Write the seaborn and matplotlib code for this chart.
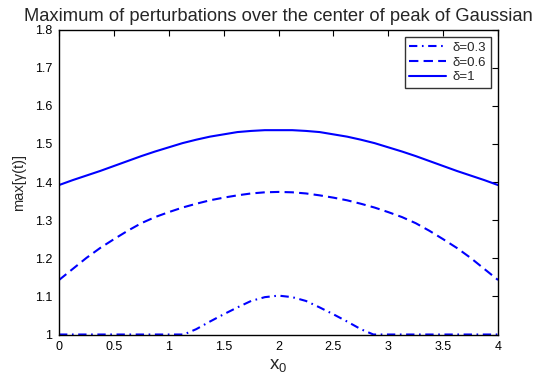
import matplotlib
matplotlib.use('Agg')
import matplotlib.pyplot as plt
import seaborn as sns
import pandas as pd

# values (curves are symmetric about x0 = 2)
x_grid = [0, 0.125, 0.25, 0.375, 0.5, 0.625, 0.75, 0.875, 1,
          1.125, 1.25, 1.375, 1.5, 1.625, 1.75, 1.875, 2,
          2.125, 2.25, 2.375, 2.5, 2.625, 2.75, 2.875, 3,
          3.125, 3.25, 3.375, 3.5, 3.625, 3.75, 3.875, 4]
gamma_d1 = [1.392, 1.405, 1.417, 1.429, 1.442, 1.455, 1.468, 1.480, 1.491,
            1.502, 1.511, 1.519, 1.525, 1.531, 1.534, 1.536, 1.536,
            1.536, 1.534, 1.531, 1.525, 1.519, 1.511, 1.502, 1.491,
            1.480, 1.468, 1.455, 1.442, 1.429, 1.417, 1.405, 1.392]
gamma_d06 = [1.143, 1.172, 1.201, 1.227, 1.250, 1.272, 1.292, 1.308, 1.321,
             1.333, 1.343, 1.352, 1.359, 1.365, 1.370, 1.373, 1.374,
             1.373, 1.370, 1.365, 1.359, 1.352, 1.343, 1.333, 1.321,
             1.308, 1.292, 1.272, 1.250, 1.227, 1.201, 1.172, 1.143]
x_d03 = [0, 0.5, 1, 1.136, 1.25, 1.375, 1.5, 1.625, 1.75, 1.875, 2,
         2.125, 2.25, 2.375, 2.5, 2.625, 2.75, 2.864, 3, 3.5, 4]
gamma_d03 = [1, 1, 1, 1, 1.014, 1.034, 1.053, 1.071, 1.088, 1.098, 1.102,
             1.098, 1.088, 1.071, 1.053, 1.034, 1.014, 1, 1, 1, 1]

labels = ['\u03b4=0.3', '\u03b4=0.6', '\u03b4=1']
xticks = [0, 0.5, 1, 1.5, 2, 2.5, 3, 3.5, 4]
xtick_labels = ['0', '0.5', '1', '1.5', '2', '2.5', '3', '3.5', '4']
yticks = [1, 1.1, 1.2, 1.3, 1.4, 1.5, 1.6, 1.7, 1.8]
ytick_labels = ['1', '1.1', '1.2', '1.3', '1.4', '1.5', '1.6', '1.7', '1.8']

df = pd.concat([
    pd.DataFrame({'x0': x_d03, 'gamma': gamma_d03, 'delta': labels[0]}),
    pd.DataFrame({'x0': x_grid, 'gamma': gamma_d06, 'delta': labels[1]}),
    pd.DataFrame({'x0': x_grid, 'gamma': gamma_d1, 'delta': labels[2]}),
])

sns.set_style('white')
plt.rcParams['font.family'] = ['Liberation Sans', 'DejaVu Sans']
plt.rcParams['mathtext.fontset'] = 'custom'
plt.rcParams['mathtext.rm'] = 'Liberation Sans'

fig = plt.figure(figsize=(5.43, 3.79), dpi=100)
ax = fig.add_axes([0.1087, 0.1174, 0.8085, 0.8047])

dash_map = {labels[0]: (4, 2.2, 0.8, 2.2), labels[1]: (4.5, 2.5), labels[2]: ''}
sns.lineplot(data=df, x='x0', y='gamma', hue='delta', style='delta',
             hue_order=labels, style_order=labels,
             palette=['#0000ff'] * 3, dashes=dash_map, estimator=None,
             sort=True, linewidth=1.5, legend=False, ax=ax)

ax.set_xlim(0, 4)
ax.set_ylim(1, 1.8)
ax.set_xticks(xticks)
ax.set_xticklabels(xtick_labels)
ax.set_yticks(yticks)
ax.set_yticklabels(ytick_labels)
ax.tick_params(direction='in', length=4, width=0.8, top=True, right=True,
               labelsize=9, colors='black', pad=5)
for sp in ax.spines.values():
    sp.set_color('black')
    sp.set_linewidth(1.0)

ax.set_xlabel(r'x$_0$', fontsize=13.5, labelpad=3)
ax.set_ylabel('max[\u03b3(t)]', fontsize=10.5, labelpad=6)
ax.set_title('Maximum of perturbations over the center of peak of Gaussian',
             fontsize=13.2, pad=6)

leg = ax.legend(ax.lines[:3], labels, loc='upper right', fontsize=9.5,
                frameon=True, fancybox=False, borderaxespad=0.55,
                handlelength=2.8, handletextpad=0.5, labelspacing=0.2,
                borderpad=0.35)
leg.get_frame().set_edgecolor('black')
leg.get_frame().set_linewidth(1.0)

fig.savefig('out.png', dpi=100)
